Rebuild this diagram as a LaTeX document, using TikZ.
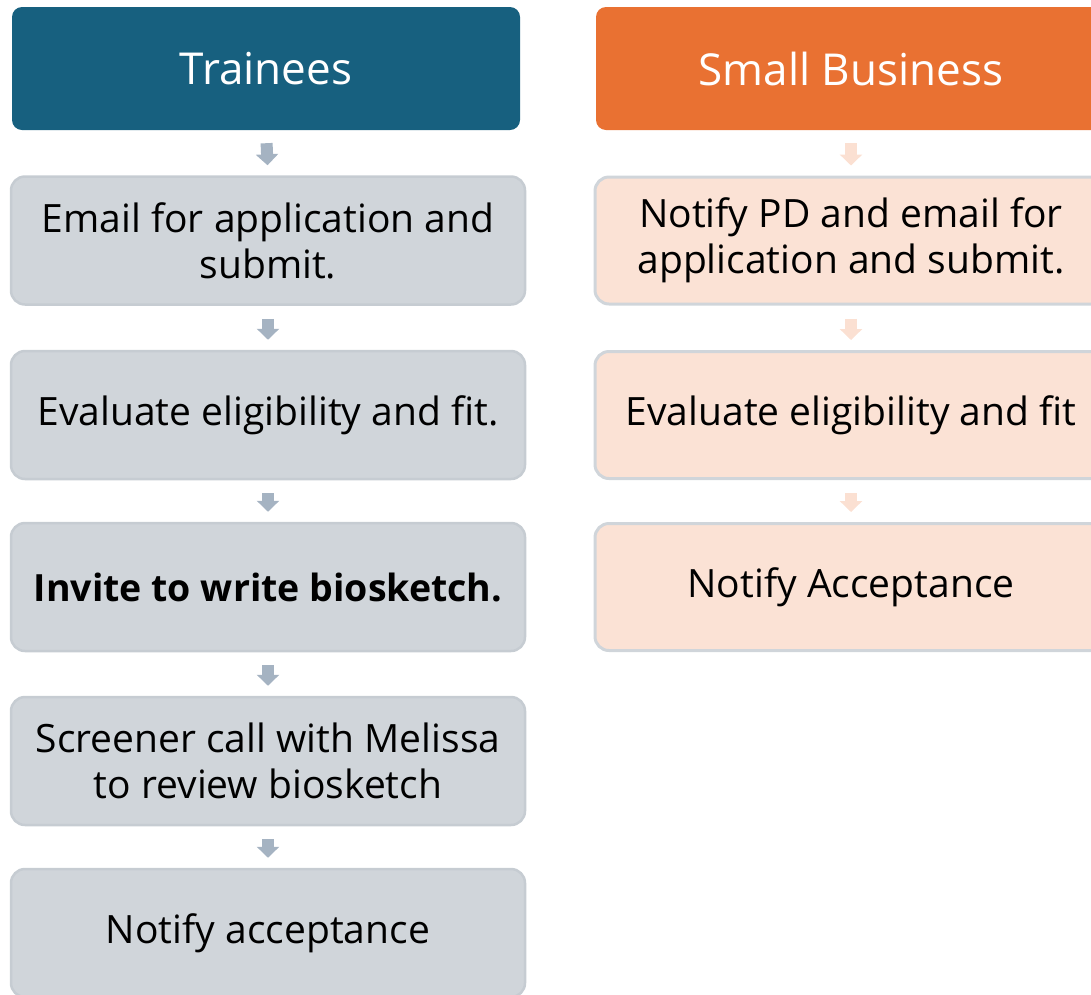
\documentclass[tikz,border=0pt]{standalone}
\usepackage{fontspec}
\setmainfont{Open Sans}
\usetikzlibrary{arrows.meta}
\definecolor{hdrL}{RGB}{23,96,127}
\definecolor{hdrR}{RGB}{233,113,50}
\definecolor{boxL}{RGB}{208,213,218}
\definecolor{edgeL}{RGB}{198,204,210}
\definecolor{boxR}{RGB}{251,226,213}
\definecolor{edgeR}{RGB}{208,213,218}
\definecolor{arrL}{RGB}{165,179,194}
\definecolor{arrR}{RGB}{251,224,210}
\tikzset{
  hdr/.style={rounded corners=10pt, minimum height=123pt, inner sep=0pt, text=white, font=\fontsize{44}{50}\selectfont},
  stepL/.style={rounded corners=14pt, fill=boxL, draw=edgeL, line width=2.5pt, minimum width=514pt, minimum height=128pt, inner sep=0pt, align=center, font=\fontsize{39}{46}\selectfont},
  stepR/.style={rounded corners=14pt, fill=boxR, draw=edgeR, line width=3pt, minimum width=512pt, minimum height=127pt, inner sep=0pt, align=center, font=\fontsize{39}{46}\selectfont},
  flowL/.style={draw=arrL, line width=12pt, -{Triangle[width=22pt,length=11pt]}, shorten <=13pt, shorten >=10pt},
  flowR/.style={draw=arrR, line width=12pt, -{Triangle[width=22pt,length=11pt]}, shorten <=13pt, shorten >=10pt},
}
\begin{document}
\begin{tikzpicture}[x=1pt,y=-1pt]
\useasboundingbox (0,0) rectangle (1091,994);
\node[hdr, fill=hdrL, minimum width=508pt] (tH) at (266,68.5) {Trainees};
\node[hdr, fill=hdrR, minimum width=510pt] (sH) at (851,68.5) {Small Business};
\node[stepL] (t1) at (268,240.5) {Email for application and\\submit.};
\node[stepL] (t2) at (268,415) {Evaluate eligibility and fit.};
\node[stepL, font=\fontsize{37.5}{46}\bfseries] (t3) at (268,587) {Invite to write biosketch.};
\node[stepL] (t4) at (268,761) {Screener call with Melissa\\to review biosketch};
\node[stepL] (t5) at (268,933) {\raisebox{-3pt}{Notify acceptance}};
\node[stepR] (s1) at (851,240.5) {Notify PD and email for\\application and submit.};
\node[stepR] (s2) at (851,415) {Evaluate eligibility and fit};
\node[stepR] (s3) at (851,587) {Notify Acceptance};
\draw[flowL] (tH.south) -- (t1.north);
\draw[flowL] (t1.south) -- (t2.north);
\draw[flowL] (t2.south) -- (t3.north);
\draw[flowL] (t3.south) -- (t4.north);
\draw[flowL] (t4.south) -- (t5.north);
\draw[flowR] (sH.south) -- (s1.north);
\draw[flowR] (s1.south) -- (s2.north);
\draw[flowR] (s2.south) -- (s3.north);
\end{tikzpicture}
\end{document}
